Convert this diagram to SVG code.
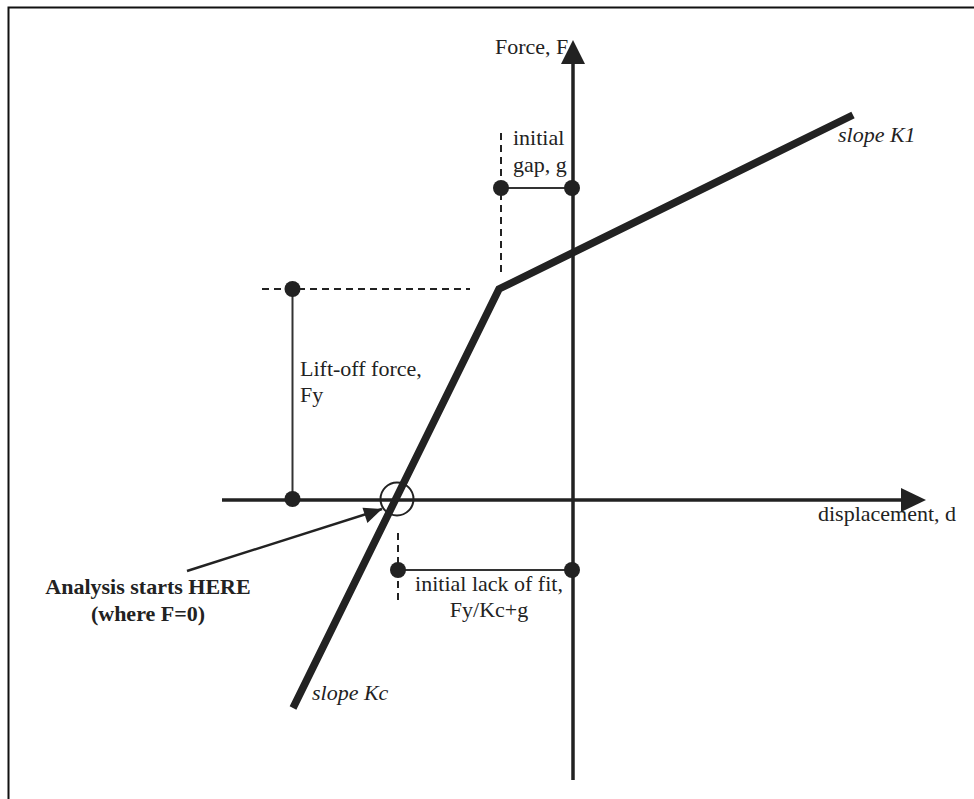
<svg xmlns="http://www.w3.org/2000/svg" width="974" height="799" viewBox="0 0 974 799">
<style>
text{font-family:"Liberation Serif","Times New Roman",serif;font-size:22px;fill:#222}
.b{font-weight:bold}
.i{font-style:italic}
.ax{stroke:#222;stroke-width:3.5;fill:none}
.thin{stroke:#333;stroke-width:2;fill:none}
.dash{stroke:#222;stroke-width:2;fill:none;stroke-dasharray:7 5}
.thick{stroke:#222;stroke-width:7.5;fill:none;stroke-linejoin:miter}
.dot{fill:#222}
</style>
<rect width="974" height="799" fill="#fff"/>
<g id="frame">
<path d="M974,7.5 H8.5 V799" stroke="#111" stroke-width="2" fill="none"/>
</g>
<g id="axes">
<line class="ax" x1="222" y1="500" x2="903" y2="500"/>
<path d="M926,500 L901,488 L901,512 Z" fill="#222"/>
<line class="ax" x1="573" y1="780" x2="573" y2="62"/>
<path d="M573,40 L561,64 L585,64 Z" fill="#222"/>
<text x="495" y="54">Force, F</text>
<text x="818" y="521">displacement, d</text>
</g>
<g id="curve">
<polyline class="thick" points="293,708 499,289 853,115"/>
<text class="i" x="838" y="142">slope K1</text>
<text class="i" x="312" y="700">slope Kc</text>
</g>
<g id="gap">
<line class="dash" x1="501" y1="133" x2="501" y2="275"/>
<line class="thin" x1="501" y1="188" x2="573" y2="188"/>
<circle class="dot" cx="501" cy="188" r="8"/>
<circle class="dot" cx="572" cy="188" r="8"/>
<text x="513" y="145">initial</text>
<text x="513" y="172">gap, g</text>
</g>
<g id="liftoff">
<line class="dash" x1="262" y1="289" x2="470" y2="289"/>
<line class="thin" x1="292.5" y1="289" x2="292.5" y2="499"/>
<circle class="dot" cx="292.5" cy="289" r="8"/>
<circle class="dot" cx="292.5" cy="499" r="8"/>
<text x="300" y="376">Lift-off force,</text>
<text x="300" y="402">Fy</text>
</g>
<g id="lackfit">
<line class="dash" x1="398" y1="533" x2="398" y2="604"/>
<line class="thin" x1="398" y1="570" x2="572" y2="570"/>
<circle class="dot" cx="398" cy="570" r="8"/>
<circle class="dot" cx="572" cy="570" r="8"/>
<text x="489" y="591" text-anchor="middle">initial lack of fit,</text>
<text x="489" y="617" text-anchor="middle">Fy/Kc+g</text>
</g>
<g id="start">
<circle cx="397" cy="499" r="16.5" stroke="#222" stroke-width="2" fill="none"/>
<text class="b" x="148" y="594" text-anchor="middle">Analysis starts HERE</text>
<text class="b" x="148" y="621" text-anchor="middle">(where F=0)</text>
</g>
<g id="connectors">
<line x1="187" y1="571" x2="382" y2="509" stroke="#222" stroke-width="2.5"/>
<path d="M382,509 L362.5,507.8 L367.4,523.1 Z" fill="#222"/>
</g>
</svg>
